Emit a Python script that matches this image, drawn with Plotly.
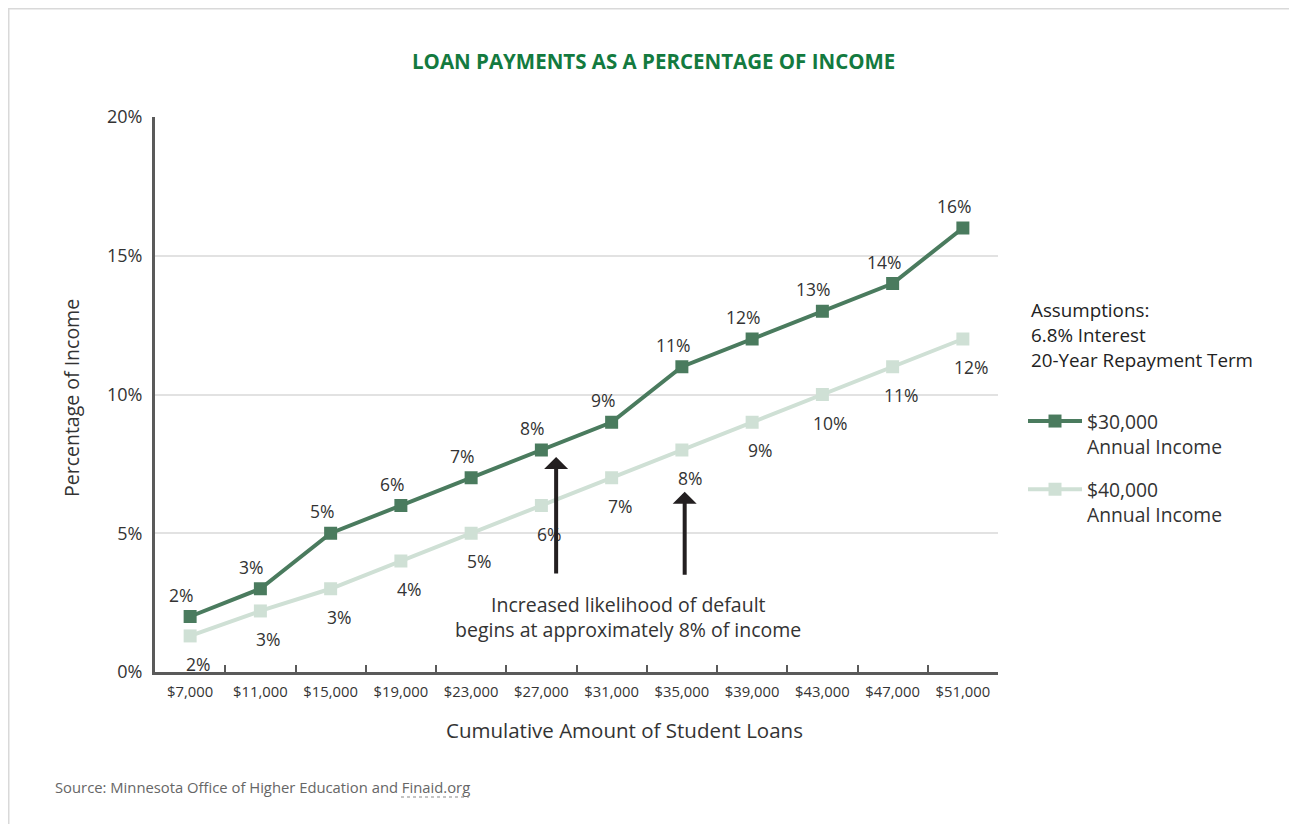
import plotly.graph_objects as go

# ---- data ----
loan_amounts = ["$7,000", "$11,000", "$15,000", "$19,000", "$23,000", "$27,000",
                "$31,000", "$35,000", "$39,000", "$43,000", "$47,000", "$51,000"]
income_30k = [2.0, 3.0, 5.0, 6.0, 7.0, 8.0, 9.0, 11.0, 12.0, 13.0, 14.0, 16.0]
income_40k = [1.3, 2.2, 3.0, 4.0, 5.0, 6.0, 7.0, 8.0, 9.0, 10.0, 11.0, 12.0]
labels_30k = ["2%", "3%", "5%", "6%", "7%", "8%", "9%", "11%", "12%", "13%", "14%", "16%"]
labels_40k = ["2%", "3%", "3%", "4%", "5%", "6%", "7%", "8%", "9%", "10%", "11%", "12%"]
y_ticks = [0, 5, 10, 15, 20]
y_tick_text = ["0%", "5%", "10%", "15%", "20%"]

# ---- style ----
FONT = "Open Sans"
DARK = "#4a7b5e"
LIGHT = "#cfe0d5"
TEXT = "#333333"
OFF = 8  # page body margin
W, H = 1297, 824
L, T = 155 - OFF, 117 - OFF
R, B = W - (998 - OFF), H - (672 - OFF)
pw, ph = W - L - R, H - T - B


def px(x):  # screen x -> paper
    return (x - OFF - L) / pw


def py(y):  # screen y -> paper
    return (H - B - (y - OFF)) / ph


fig = go.Figure()
fig.add_trace(go.Scatter(
    x=loan_amounts, y=income_30k, mode="lines+markers",
    name="$30,000<br>Annual Income", legendgroup="a",
    line=dict(color=DARK, width=4),
    marker=dict(symbol="square", size=13, color=DARK),
))
fig.add_trace(go.Scatter(
    x=loan_amounts, y=income_40k, mode="lines+markers",
    name="$40,000<br>Annual Income", legendgroup="b",
    line=dict(color=LIGHT, width=4),
    marker=dict(symbol="square", size=13, color=LIGHT),
))

annotations = []
for cat, v, t in zip(loan_amounts, income_30k, labels_30k):
    annotations.append(dict(x=cat, y=v, text=t, showarrow=False, xshift=-9, yshift=22,
                            font=dict(family=FONT, size=17.5, color=TEXT)))
for cat, v, t in zip(loan_amounts, income_40k, labels_40k):
    annotations.append(dict(x=cat, y=v, text=t, showarrow=False, xshift=8, yshift=-28,
                            font=dict(family=FONT, size=17.5, color=TEXT)))

# arrows
for xa, ytip, ytail in [(5.21, 7.75, 3.5), (7.04, 6.5, 3.45)]:
    annotations.append(dict(x=xa, y=ytip, ax=xa, ay=ytail, xref="x", yref="y",
                            axref="x", ayref="y", text="", showarrow=True,
                            arrowhead=1, arrowsize=1.0, arrowwidth=4,
                            arrowcolor="#231f20", standoff=0))


def note(x, y, text, size, color=TEXT, xanchor="center", **kw):
    annotations.append(dict(xref="paper", yref="paper", x=px(x), y=py(y), text=text,
                            showarrow=False, xanchor=xanchor, yanchor="middle",
                            font=dict(family=FONT, size=size, color=color, weight=kw.pop("weight", 400)),
                            **kw))


# default text
note(628, 604, "Increased likelihood of default", 19.5)
note(628, 629, "begins at approximately 8% of income", 19.5)

# title
note(653, 61, "<b>LOAN PAYMENTS AS A PERCENTAGE OF INCOME</b>", 20.5, color="#137a3f")

# axis titles
note(72, 398, "Percentage of Income", 19.5, textangle=-90)
note(624, 730, "Cumulative Amount of Student Loans", 20.5)

# assumptions
note(1029, 310, "Assumptions:", 18.8, color="#222222", xanchor="left", weight=500)
note(1029, 335, "6.8% Interest", 18.8, color="#222222", xanchor="left")
note(1029, 360, "20-Year Repayment Term", 18.8, color="#222222", xanchor="left")

# source
note(53, 787, "Source: Minnesota Office of Higher Education and Finaid.org", 14.8,
     color="#666666", xanchor="left")

shapes = [
    dict(type="line", xref="paper", yref="paper", x0=px(0), x1=px(W + 20), y0=py(8.5), y1=py(8.5),
         line=dict(color="#d9d9d9", width=2)),
    dict(type="line", xref="paper", yref="paper", x0=px(8.5), x1=px(8.5), y0=py(8.5), y1=py(H + 20),
         line=dict(color="#d9d9d9", width=2)),
    dict(type="line", xref="paper", yref="paper", x0=px(401), x1=px(469), y0=py(797), y1=py(797),
         line=dict(color="#888888", width=1, dash="dot")),
]

fig.update_layout(
    width=W, height=H,
    margin=dict(l=L, r=R, t=T, b=B, autoexpand=False),
    paper_bgcolor="white", plot_bgcolor="white",
    font=dict(family=FONT, color=TEXT),
    annotations=annotations, shapes=shapes,
    showlegend=True,
    legend=dict(x=px(1023), y=py(402), xanchor="left", yanchor="top",
                font=dict(family=FONT, size=19.3, color=TEXT),
                valign="top", itemwidth=54, tracegroupgap=15,
                bgcolor="rgba(0,0,0,0)"),
    xaxis=dict(type="category", range=[-0.5, 11.5], showgrid=False,
               showline=True, linecolor="#5a5a5a", linewidth=3,
               ticks="inside", tickson="boundaries", ticklen=7, tickwidth=2, tickcolor="#5a5a5a",
               ticklabelstandoff=4,
               tickfont=dict(family=FONT, size=14.8, color=TEXT), zeroline=False),
    yaxis=dict(range=[0, 20], tickvals=y_ticks, ticktext=y_tick_text,
               showgrid=True, gridcolor="#e2e2e2", gridwidth=1.5,
               showline=True, linecolor="#5a5a5a", linewidth=3,
               ticks="", zeroline=False, ticklabelstandoff=6,
               tickfont=dict(family=FONT, size=18, color=TEXT)),
)

fig.write_html("out.html")
